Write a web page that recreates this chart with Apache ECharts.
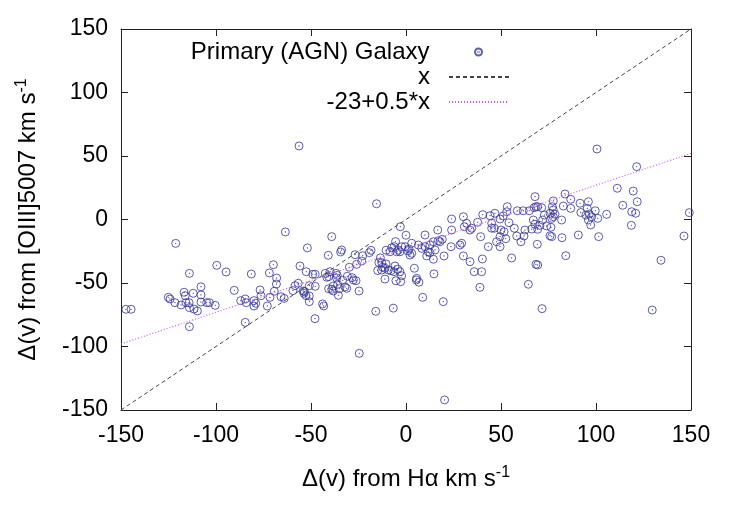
<!DOCTYPE html>
<html>
<head>
<meta charset="utf-8">
<script src="https://cdn.jsdelivr.net/npm/echarts@6/dist/echarts.min.js"></script>
<style>html,body{margin:0;padding:0;background:#fff;}#c{width:736px;height:515px;}</style>
</head>
<body>
<div id="c"></div>
<script>
const xTicks = [-150, -100, -50, 0, 50, 100, 150];
const yTicks = [-150, -100, -50, 0, 50, 100, 150];
const seriesNames = ['Primary (AGN) Galaxy', 'x', '-23+0.5*x'];
const xLabel = 'Δ(v) from Hα km s';
const yLabel = 'Δ(v) from [OIII]5007 km s';
const galaxyX = [
-56.3,100.5,-121.2,-114.0,-99.6,-94.7,-107.9,-81.4,-71.9,-69.8,-68.1,-68.2,-63.5,-51.9,-55.8,-52.5,-56.7,-58.4,
-147.4,-144.7,-125.1,-124.2,-121.6,-118.4,-116.8,-116.2,-115.8,-114.2,-112.0,-107.9,-107.9,-114.0,-111.6,-109.8,-114.0,
-104.9,-103.5,-100.4,-90.4,-87.0,-84.6,-84.1,-84.6,-80.0,-79.1,-80.0,-76.8,-76.3,-73.0,-71.6,-69.3,-65.8,-64.1,-59.5,
-53.7,-52.6,-50.9,-50.9,-53.5,-39.1,-40.9,-33.9,-34.4,-49.1,-47.8,-47.8,-43.9,-43.3,-47.9,-42.5,-41.7,-40.0,-40.7,
-36.8,-36.2,-36.5,-33.3,-30.9,-29.8,-28.4,-27.7,-26.3,-26.0,-40.7,-39.1,-38.3,-36.0,-35.1,-35.6,-32.1,-31.2,
-15.5,-3.0,0.0,-18.4,-19.3,-22.8,-23.3,-10.5,-5.5,-13.5,-14.3,-12.8,-12.3,-10.5,-14.9,
-12.8,-11.1,-9.3,-7.9,-5.8,-6.3,-4.4,-3.2,-2.3,-5.3,-2.8,-11.1,-24.7,-15.9,-6.7,-26.8,
-8.4,-7.5,-6.2,-4.0,-4.9,-2.3,-3.2,-0.5,0.9,1.6,3.0,2.1,3.0,
4.4,5.6,5.4,8.8,14.7,20.0,19.6,
6.5,8.3,10.0,10.0,11.7,10.9,12.6,12.6,14.4,15.3,16.7,17.0,17.9,19.1,14.4,24.0,23.7,24.0,28.4,29.3,30.2,30.7,31.9,33.7,34.6,
30.2,33.7,35.9,40.2,39.8,38.9,37.7,39.3,40.4,43.3,44.2,45.1,45.1,46.5,47.7,49.5,46.8,50.0,49.5,51.2,
-54.1,-50.9,-38.3,-24.6,6.8,20.3,
121.4,111.2,119.6,121.7,114.1,118.8,120.9,118.6,105.6,100.9,99.6,96.0,95.4,96.5,94.7,96.0,97.2,97.7,91.6,92.0,90.7,101.4,84.1,
83.7,86.7,82.8,86.7,81.9,82.1,77.5,77.0,77.5,78.4,77.5,76.7,75.8,72.8,71.9,74.0,76.3,75.8,69.3,70.5,67.9,67.0,68.4,67.4,69.3,71.4,
64.9,61.7,58.6,53.3,53.0,54.2,57.0,58.3,60.5,62.6,62.1,66.2,69.1,55.6,69.3,68.4,64.4,76.7,51.6,49.5,67.9,
149.1,146.3,134.2,52.5,71.6,129.6
];
const galaxyY = [
57.9,55.5,-18.8,-42.4,-36.1,-41.3,-53.0,-42.9,-42.1,-35.6,-46.1,-50.8,-9.8,-22.4,-36.6,-41.1,-50.2,-52.1,
-70.7,-70.7,-61.3,-62.6,-65.5,-67.3,-57.3,-60.0,-65.5,-65.5,-58.1,-59.4,-65.0,-69.4,-70.5,-72.0,-84.4,
-65.5,-65.5,-67.6,-55.8,-63.9,-62.6,-65.5,-81.0,-63.9,-66.0,-68.1,-55.5,-60.0,-68.1,-61.3,-56.5,-60.8,-62.1,-56.0,
-58.1,-60.0,-64.7,-52.1,-56.8,-13.5,-28.2,-24.0,-25.6,-43.1,-43.1,-52.6,-66.5,-68.1,-78.1,-42.4,-45.5,-41.1,-45.0,
-42.4,-44.0,-46.1,-47.9,-44.7,-37.6,-45.8,-47.6,-48.2,-35.3,-54.5,-55.0,-52.4,-51.0,-54.5,-59.7,-53.1,-54.2,
12.4,-5.7,-12.4,-24.3,-26.1,-28.5,-32.7,-24.2,-17.4,-30.2,-33.9,-34.0,-37.6,-35.0,-40.2,
-39.8,-38.4,-39.8,-40.3,-36.6,-41.1,-39.2,-41.1,-44.3,-48.2,-49.0,-46.9,-56.3,-72.3,-69.8,-27.7,
-25.4,-22.2,-21.4,-24.0,-25.4,-21.4,-25.4,-21.4,-24.6,-23.2,-26.6,-28.0,-18.7,
-38.4,-46.3,-47.6,-61.3,-42.8,-28.7,-64.7,
-20.1,-22.7,-12.2,-21.4,-25.4,-28.7,-26.1,-20.1,-17.5,-24.0,-8.3,-16.7,-17.5,-15.6,-31.3,-8.3,-21.4,0.4,-20.1,-18.7,2.2,-5.7,-3.0,-8.3,-6.9,
-28.7,-33.2,-41.1,-31.1,-41.1,-53.4,-2.2,-13.5,3.8,-21.4,3.0,-3.0,-6.9,-6.9,-17.5,-21.4,4.9,-8.3,0.4,2.8,
-56.3,-60.2,-56.3,-105.4,-49.4,-142.1,
41.6,24.6,22.4,14.0,11.2,6.1,4.9,-4.6,4.1,0.9,6.9,14.0,8.8,4.3,3.5,-0.4,-4.3,2.2,12.8,5.5,-12.2,-13.5,-28.5,
20.1,15.9,10.6,8.8,-0.4,-14.3,14.6,10.1,7.5,4.1,2.2,0.9,4.9,3.5,-0.4,-5.1,-6.1,-12.8,-7.7,-4.6,-3.8,-0.4,10.1,9.3,10.1,9.3,
6.9,6.9,6.9,10.1,6.1,-2.5,-6.9,-13.0,-17.5,-8.3,-13.0,-7.5,-19.5,-30.3,-35.8,-35.3,-51.0,-13.5,-9.6,-13.5,18.0,
5.4,-13.0,-32.1,-15.1,-70.2,-71.3
];
const identityLine = [[-150, -150], [150, 150]];
const fitLine = [[-150, -98], [150, 52]];

const galaxyData = galaxyX.map((x, i) => [x, galaxyY[i]]);
const FONT = 'Liberation Sans, Arial, sans-serif';
const axisColor = '#222';
const TICK_FS = 23, TEXT_FS = 24;
const ringDot = 'path://M0,-40A40,40 0 1,1 0,40A40,40 0 1,1 0,-40ZM0,-3A3,3 0 1,1 0,3A3,3 0 1,1 0,-3Z';

function mkX(pos, show) {
  return {
    type: 'value', position: pos, min: -150, max: 150, interval: 50,
    axisLine: { show: true, onZero: false, lineStyle: { color: axisColor, width: 1 } },
    axisTick: { show: true, inside: true, length: 7, lineStyle: { color: axisColor } },
    axisLabel: { show: show, fontSize: TICK_FS, color: '#000', fontFamily: FONT, margin: 14 },
    splitLine: { show: false },
    name: show ? xLabel + '{sup|-1}' : '',
    nameLocation: 'middle', nameGap: 55,
    nameTextStyle: { fontSize: TEXT_FS, color: '#000', fontFamily: FONT,
      rich: { sup: { fontSize: 16, color: '#000', fontFamily: FONT, verticalAlign: 'top', padding: [0, 0, 12, 0] } } }
  };
}
function mkY(pos, show) {
  return {
    type: 'value', position: pos, min: -150, max: 150, interval: 50,
    axisLine: { show: true, onZero: false, lineStyle: { color: axisColor, width: 1 } },
    axisTick: { show: true, inside: true, length: 7, lineStyle: { color: axisColor } },
    axisLabel: { show: show, fontSize: TICK_FS, color: '#000', fontFamily: FONT, margin: 13 },
    splitLine: { show: false },
    name: show ? yLabel + '{sup|-1}' : '',
    nameLocation: 'middle', nameGap: 79,
    nameTextStyle: { fontSize: TEXT_FS, color: '#000', fontFamily: FONT,
      rich: { sup: { fontSize: 16, color: '#000', fontFamily: FONT, verticalAlign: 'top', padding: [0, 0, 12, 0] } } }
  };
}
function mkLegend(name, top, right, h, hideSymbol) {
  const lg = {
    data: [name], right: right, top: top, orient: 'vertical', align: 'right',
    itemWidth: 60, itemHeight: h, selectedMode: false,
    textStyle: { fontSize: TEXT_FS, color: '#000', fontFamily: FONT, padding: [0, 14, 0, 0] }
  };
  if (hideSymbol) lg.itemStyle = { opacity: 0 };
  return lg;
}

const chart = echarts.init(document.getElementById('c'), null, { renderer: 'canvas' });
chart.setOption({
  animation: false,
  backgroundColor: '#fff',
  grid: { left: 121, right: 45, top: 29, bottom: 105, containLabel: false },
  xAxis: [mkX('bottom', true), mkX('top', false)],
  yAxis: [mkY('left', true), mkY('right', false)],
  legend: [
    mkLegend(seriesNames[0], 35, 248, 7, false),
    mkLegend(seriesNames[1], 60, 221, 10, true),
    mkLegend(seriesNames[2], 85, 221, 10, true)
  ],
  series: [
    { name: seriesNames[0], type: 'scatter', xAxisIndex: 0, yAxisIndex: 0, data: galaxyData,
      symbol: ringDot, symbolSize: 8,
      itemStyle: { color: 'rgba(0,0,0,0)', borderColor: '#34349a', borderWidth: 1 } },
    { name: seriesNames[1], type: 'line', xAxisIndex: 0, yAxisIndex: 0, data: identityLine,
      symbol: 'none', showSymbol: false, lineStyle: { color: '#444', width: 1, type: [4, 3] }, itemStyle: { color: '#444' } },
    { name: seriesNames[2], type: 'line', xAxisIndex: 0, yAxisIndex: 0, data: fitLine,
      symbol: 'none', showSymbol: false, lineStyle: { color: '#d25cf0', width: 1.2, type: [1, 2] }, itemStyle: { color: '#d25cf0' } }
  ]
});
</script>
</body>
</html>
